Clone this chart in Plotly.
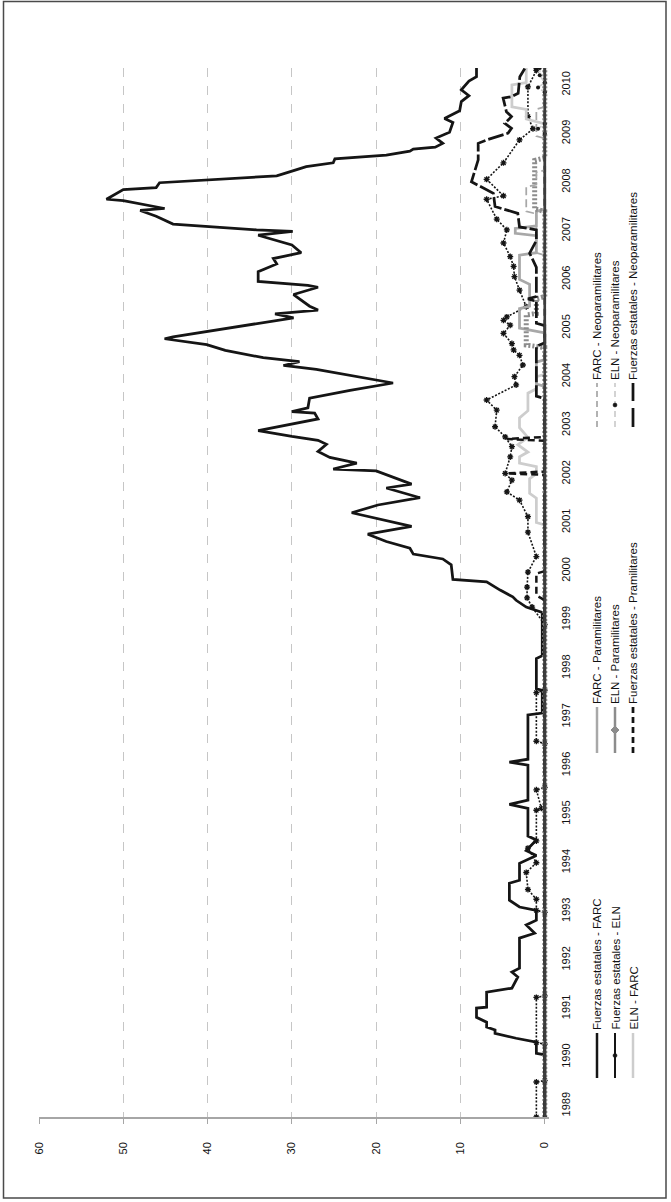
import plotly.graph_objects as go

# ---------------------------------------------------------------
# Monthly counts of armed confrontations by dyad, Colombia 1989-2010
# Each series is stored as (decimal year, value) vertices.
# ---------------------------------------------------------------
years = list(range(1989, 2011))
value_ticks = [0, 10, 20, 30, 40, 50, 60]

t_fe_farc = [1988.77, 1990.05, 1990.08, 1990.31, 1990.39, 1990.49, 1990.56, 1990.62, 1990.72, 1990.82,
             1991.01, 1991.03, 1991.34, 1991.42, 1991.65, 1991.75, 1991.83, 1992.45, 1992.55, 1992.72,
             1992.82, 1993.02, 1993.09, 1993.23, 1993.58, 1993.64, 1993.99, 1994.15, 1994.25, 1994.47,
             1994.55, 1995.12, 1995.20, 1995.29, 1996.01, 1996.07, 1996.13, 1997.04, 1997.08, 1997.55,
             1997.58, 1998.20, 1998.26, 1999.15, 1999.26, 1999.40, 1999.47, 1999.61, 1999.78, 1999.83,
             2000.13, 2000.25, 2000.35, 2000.47, 2000.61, 2000.76, 2000.92, 2001.20, 2001.36, 2001.44,
             2001.51, 2001.71, 2001.79, 2002.06, 2002.10, 2002.22, 2002.34, 2002.46, 2002.61, 2002.69,
             2002.77, 2002.89, 2003.13, 2003.25, 2003.28, 2003.36, 2003.56, 2003.72, 2003.87, 2004.15,
             2004.23, 2004.31, 2004.39, 2004.54, 2004.66, 2004.78, 2004.82, 2005.21, 2005.29, 2005.37,
             2005.45, 2005.69, 2005.84, 2005.88, 2005.96, 2006.16, 2006.32, 2006.43, 2006.55, 2006.71,
             2006.91, 2006.99, 2007.02, 2007.14, 2007.30, 2007.42, 2007.46, 2007.62, 2007.65, 2007.85,
             2007.89, 2007.99, 2008.13, 2008.24, 2008.32, 2008.40, 2008.48, 2008.56, 2008.64, 2008.68,
             2008.72, 2008.80, 2008.91, 2009.03, 2009.23, 2009.31, 2009.39, 2009.47, 2009.66, 2009.78,
             2009.90, 2010.08, 2010.17, 2010.35]
v_fe_farc = [0, 0, 1.0, 1.0, 3.4, 5.9, 5.9, 6.9, 6.9, 8.1,
             8.1, 6.9, 6.9, 3.9, 3.2, 3.9, 3.0, 3.0, 1.2, 2.2,
             1.0, 1.0, 3.0, 4.2, 4.2, 3.0, 3.0, 1.0, 2.2, 1.0,
             2.0, 2.0, 4.2, 2.0, 2.0, 4.2, 2.0, 2.0, 0.3, 0.3,
             1.0, 1.0, 0.3, 0.3, 2.2, 3.4, 3.8, 5.3, 6.9, 10.9,
             11.1, 12.1, 15.6, 16.0, 18.8, 21.0, 15.8, 22.9, 19.8, 17.0,
             14.8, 18.8, 15.8, 20.0, 25.1, 22.3, 25.5, 26.9, 25.9, 26.9,
             30.0, 34.0, 26.9, 27.3, 30.0, 28.1, 27.9, 23.1, 18.0, 27.1,
             31.0, 29.1, 33.4, 37.9, 40.1, 45.1, 44.1, 29.8, 32.0, 26.9,
             27.9, 29.8, 26.9, 28.1, 34.0, 34.0, 31.8, 32.2, 28.9, 30.0,
             34.0, 29.9, 34.2, 44.1, 46.1, 48.0, 45.1, 50.0, 52.0, 50.0,
             46.1, 45.7, 31.8, 29.8, 28.3, 25.1, 24.9, 18.8, 16.0, 15.6,
             13.0, 12.1, 12.9, 11.3, 10.9, 11.9, 10.9, 10.1, 9.9, 9.0,
             9.9, 9.0, 8.1, 8.1]

t_fe_eln = [1988.77, 1989.49, 1989.52, 1990.27, 1990.30, 1991.23, 1991.26, 1992.98, 1993.02, 1993.25,
            1993.45, 1993.80, 1994.00, 1994.30, 1994.45, 1995.08, 1995.12, 1995.50, 1995.55, 1996.45,
            1996.50, 1997.50, 1997.55, 1998.90, 1999.26, 1999.45, 1999.67, 1999.98, 2000.30, 2000.80,
            2001.12, 2001.46, 2001.63, 2001.87, 2002.01, 2002.35, 2002.56, 2002.76, 2002.97, 2003.31,
            2003.52, 2003.83, 2004.00, 2004.24, 2004.44, 2004.55, 2004.68, 2004.89, 2005.06, 2005.16,
            2005.23, 2005.44, 2005.78, 2006.06, 2006.27, 2006.47, 2006.75, 2007.02, 2007.24, 2007.65,
            2007.72, 2008.06, 2008.40, 2008.87, 2009.10, 2009.35, 2009.96, 2010.30, 2010.35]
v_fe_eln = [1.0, 1.0, 0, 0, 1.0, 1.0, 0, 0, 1.0, 1.0,
            2.0, 2.2, 1.0, 2.0, 1.0, 1.0, 0.4, 1.0, 0, 0,
            1.0, 1.0, 0, 0, 1.5, 2.1, 2.1, 2.0, 1.0, 2.0,
            2.0, 3.0, 4.5, 3.9, 4.7, 4.1, 3.9, 4.7, 5.9, 5.7,
            6.9, 3.4, 3.6, 2.6, 3.0, 3.7, 3.9, 4.9, 4.1, 4.9,
            4.5, 2.2, 3.0, 3.6, 3.7, 4.1, 4.9, 4.5, 5.7, 6.9,
            4.9, 6.9, 4.9, 3.0, 1.4, 2.0, 2.0, 1.0, 1.0]

t_eln_farc = [1988.77, 2000.95, 2001.00, 2001.50, 2001.60, 2001.90, 2002.00, 2002.15, 2002.22, 2002.35,
              2002.45, 2002.60, 2002.75, 2002.95, 2003.15, 2003.30, 2003.66, 2003.75, 2004.00, 2004.05,
              2009.20, 2009.30, 2009.50, 2009.55, 2010.00, 2010.05, 2010.35]
v_eln_farc = [0, 0, 1.0, 1.0, 1.8, 1.8, 1.0, 1.0, 3.0, 3.0,
              2.0, 3.2, 2.0, 3.0, 3.0, 2.0, 2.0, 1.0, 1.0, 0,
              0, 2.2, 2.2, 3.9, 3.9, 2.2, 2.2]

t_farc_para = [1988.77, 2003.80, 2003.85, 2004.30, 2004.35, 2004.90, 2005.00, 2005.40, 2005.45, 2005.90,
               2006.00, 2006.50, 2006.55, 2006.90, 2006.95, 2007.05, 2007.10, 2007.40, 2007.45, 2010.35]
v_farc_para = [0, 0, 1.0, 1.0, 0, 0, 3.0, 3.0, 1.8, 1.8,
               3.0, 3.0, 1.0, 1.0, 3.5, 3.5, 1.0, 1.0, 0, 0]

t_eln_para = [1988.77, 2004.60, 2004.65, 2005.27, 2005.30, 2005.60, 2005.65, 2007.40, 2007.45, 2008.45,
              2008.50, 2010.35]
v_eln_para = [0, 0, 2.2, 2.2, 1.0, 1.0, 0, 0, 1.2, 1.2,
              0, 0]

t_fe_para = [1988.77, 1999.40, 1999.50, 1999.95, 2000.00, 2001.98, 2002.01, 2002.05, 2002.68, 2002.72,
             2002.76, 2010.35]
v_fe_para = [0, 0, 1.0, 1.0, 0, 0, 4.5, 0, 0, 4.5,
             0, 0]

t_farc_neo = [1988.77, 2006.50, 2006.55, 2007.35, 2007.40, 2007.90, 2007.95, 2008.20, 2008.25, 2008.90,
              2008.95, 2009.50, 2009.55, 2010.35]
v_farc_neo = [0, 0, 1.0, 1.0, 2.2, 2.2, 1.0, 1.0, 0, 0,
              1.0, 1.0, 0, 0]

t_eln_neo = [1988.77, 2009.00, 2009.10, 2009.20, 2009.85, 2009.95, 2010.05, 2010.20, 2010.35]
v_eln_neo = [0, 0, 0.8, 0, 0, 0.8, 0, 0.6, 0.6]

t_fe_neo = [1988.77, 2003.55, 2003.60, 2004.62, 2004.70, 2005.05, 2005.10, 2005.55, 2005.60, 2005.65,
            2006.25, 2006.54, 2006.80, 2007.02, 2007.08, 2007.36, 2007.50, 2007.77, 2008.01, 2008.46,
            2008.80, 2008.87, 2009.01, 2009.11, 2009.21, 2009.35, 2009.45, 2009.73, 2009.76, 2009.83,
            2010.17, 2010.34]
v_fe_neo = [0, 0, 1.0, 1.0, 0, 0, 1.0, 1.0, 2.0, 1.0,
            1.0, 1.8, 1.0, 1.0, 3.0, 3.2, 5.9, 6.1, 8.7, 7.9,
            7.9, 6.9, 4.35, 3.95, 4.74, 3.95, 4.55, 4.94, 3.95, 3.16,
            2.96, 2.37]

# ---------------------------------------------------------------
# styles (drawing order = legend order, last on top)
# ---------------------------------------------------------------
BLACK = "#151515"
LIGHT = "#cdcdcd"
MID = "#a8a8a8"
DARKGRAY = "#8c8c8c"

series = [
    dict(name="Fuerzas estatales - FARC", t=t_fe_farc, v=v_fe_farc,
         line=dict(color=BLACK, width=2.75),
         key=dict(color=BLACK, width=2.5, dash="solid")),
    dict(name="Fuerzas estatales - ELN", t=t_fe_eln, v=v_fe_eln,
         line=dict(color=BLACK, width=1.6, dash="2px,1.6px"),
         marker=dict(symbol="asterisk-open", size=5, color=BLACK, line=dict(width=1.3, color=BLACK)),
         key=dict(color=BLACK, width=2, dash="solid"), dot="circle"),
    dict(name="ELN - FARC", t=t_eln_farc, v=v_eln_farc,
         line=dict(color=LIGHT, width=2.75),
         key=dict(color=LIGHT, width=2.5, dash="solid")),
    dict(name="FARC - Paramilitares", t=t_farc_para, v=v_farc_para,
         line=dict(color=MID, width=2.75),
         key=dict(color=MID, width=2.5, dash="solid")),
    dict(name="ELN - Paramilitares", t=t_eln_para, v=v_eln_para,
         line=dict(color=DARKGRAY, width=5, dash="2px,2px"),
         key=dict(color=DARKGRAY, width=2.5, dash="solid"), dot="diamond"),
    dict(name="Fuerzas estatales - Pramilitares", t=t_fe_para, v=v_fe_para,
         line=dict(color=BLACK, width=2.5, dash="7px,4px"),
         key=dict(color=BLACK, width=2.75, dash="6px,4px")),
    dict(name="FARC - Neoparamilitares", t=t_farc_neo, v=v_farc_neo,
         line=dict(color=MID, width=1.75, dash="8px,4px"),
         key=dict(color=MID, width=1.75, dash="6px,4px")),
    dict(name="ELN - Neoparamilitares", t=t_eln_neo, v=v_eln_neo,
         line=dict(color=LIGHT, width=1.75, dash="6px,4px"),
         marker=dict(symbol="circle", size=4, color=BLACK),
         key=dict(color=LIGHT, width=1.75, dash="6px,4px"), dot="circle"),
    dict(name="Fuerzas estatales - Neoparamilitares", t=t_fe_neo, v=v_fe_neo,
         line=dict(color=BLACK, width=2.75, dash="16px,3px"),
         key=dict(color=BLACK, width=2.75, dash="19px,7px")),
]

fig = go.Figure()
for s in series:
    assert len(s["t"]) == len(s["v"]), s["name"]
    kw = dict(x=s["v"], y=s["t"], name=s["name"], line=s["line"], hoverinfo="skip")
    if "marker" in s:
        kw.update(mode="lines+markers", marker=s["marker"])
    else:
        kw.update(mode="lines")
    fig.add_trace(go.Scatter(**kw))

# ---------------------------------------------------------------
# layout: the chart is laid out sideways (time runs bottom -> top,
# values grow leftwards) with all text turned 90 degrees
# ---------------------------------------------------------------
FIG_W, FIG_H = 671, 1202
L, R, T, B = 39, 122, 68, 85
PW = FIG_W - L - R
PH = FIG_H - T - B
FONT = "Liberation Sans, Arial, sans-serif"


def px_x(xp):
    return (xp - L) / PW


def px_y(yp):
    return (FIG_H - B - yp) / PH


fig.update_layout(
    width=FIG_W, height=FIG_H,
    margin=dict(l=L, r=R, t=T, b=B, autoexpand=False),
    paper_bgcolor="white", plot_bgcolor="white",
    showlegend=False,
    font=dict(family=FONT, size=11, color="#111111"),
    xaxis=dict(
        range=[60, -0.5], tickvals=value_ticks, ticktext=[str(v) for v in value_ticks],
        tickangle=-90, showgrid=True, gridcolor="#c6c6c6", griddash="dash", gridwidth=1,
        zeroline=False, showline=True, linecolor="#a6a6a6", linewidth=1.5,
        ticks="outside", ticklen=5, tickcolor="#a6a6a6", ticklabelstandoff=14,
        tickfont=dict(family=FONT, size=11, color="#111111"), fixedrange=True,
    ),
    yaxis=dict(
        range=[1988.77, 2010.35], side="right", tickvals=years, ticktext=[str(y) for y in years],
        tickangle=-90, showgrid=False, zeroline=False, showline=False, ticks="",
        ticklabelstandoff=9, tickfont=dict(family=FONT, size=11, color="#111111"), fixedrange=True,
    ),
)

shapes = []
# category axis line at value 0
shapes.append(dict(type="line", xref="x", yref="paper", x0=0, x1=0, y0=0, y1=1,
                   line=dict(color="#3c3c3c", width=2.5), layer="above"))
# outer frame
shapes.append(dict(type="rect", xref="paper", yref="paper",
                   x0=px_x(3.5), x1=px_x(666), y0=px_y(1198), y1=px_y(1.5),
                   line=dict(color="#4a4a4a", width=1.5), fillcolor="rgba(0,0,0,0)", layer="above"))

# ---------------------------------------------------------------
# hand-drawn legend: three groups of three rows, rotated text
# ---------------------------------------------------------------
cols = [597, 615, 633]
groups = [  # (symbol bottom, symbol top) in pixels
    (1078, 1033),
    (753, 707),
    (427, 383),
]
annotations = []
for i, s in enumerate(series):
    g, r = divmod(i, 3)
    xc = cols[r]
    yb, yt = groups[g]
    key = s["key"]
    shapes.append(dict(type="line", xref="paper", yref="paper",
                       x0=px_x(xc), x1=px_x(xc), y0=px_y(yb), y1=px_y(yt),
                       line=dict(color=key["color"], width=key["width"], dash=key["dash"])))
    dot = s.get("dot")
    if dot:
        ym = (yb + yt) / 2
        if dot == "diamond":
            d = 4
            path = (f"M {px_x(xc)} {px_y(ym - d)} L {px_x(xc + d)} {px_y(ym)} "
                    f"L {px_x(xc)} {px_y(ym + d)} L {px_x(xc - d)} {px_y(ym)} Z")
            shapes.append(dict(type="path", xref="paper", yref="paper", path=path,
                               fillcolor=DARKGRAY, line=dict(color=DARKGRAY, width=1)))
        else:
            d = 2
            shapes.append(dict(type="circle", xref="paper", yref="paper",
                               x0=px_x(xc - d), x1=px_x(xc + d), y0=px_y(ym + d), y1=px_y(ym - d),
                               fillcolor=BLACK, line=dict(color=BLACK, width=0.5)))
    annotations.append(dict(
        text=s["name"], xref="paper", yref="paper", x=px_x(xc), y=px_y(yt - 2),
        xanchor="center", yanchor="bottom", textangle=-90, showarrow=False,
        font=dict(family=FONT, size=11.5, color="#111111"), borderpad=0,
    ))

fig.update_layout(shapes=shapes, annotations=annotations)

fig.write_html("out.html")
